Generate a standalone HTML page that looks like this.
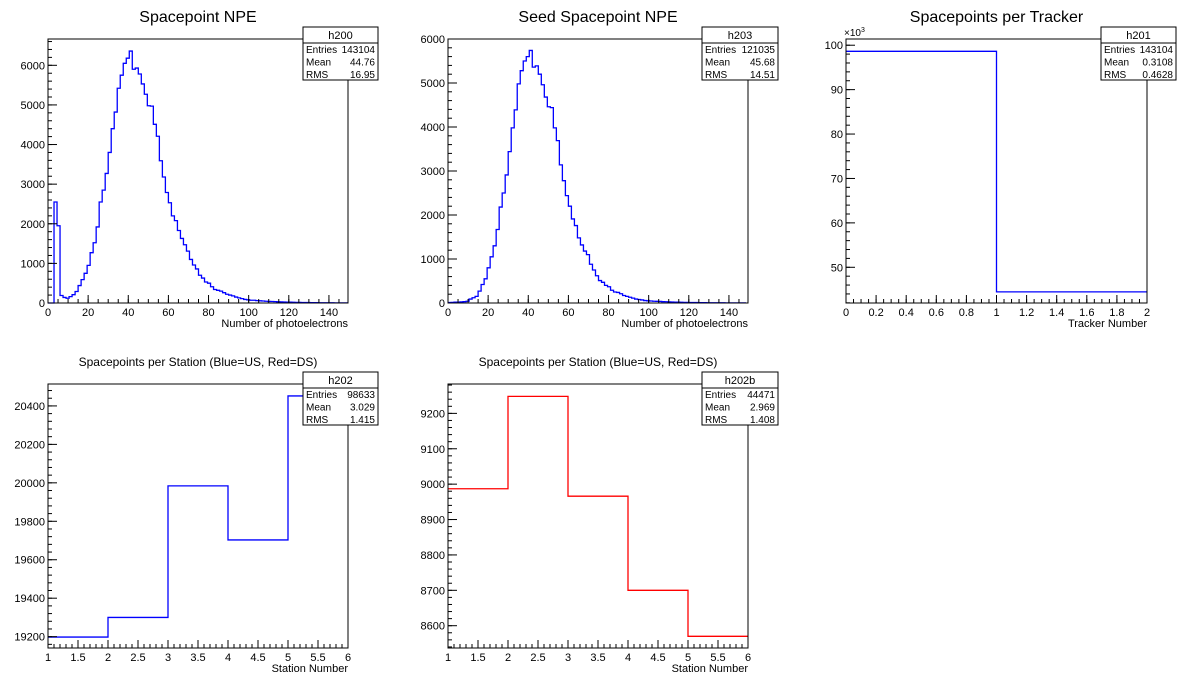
<!DOCTYPE html>
<html><head><meta charset="utf-8">
<style>
html,body{margin:0;padding:0;background:#fff;}
svg{display:block;font-family:"Liberation Sans",Arial,sans-serif;}
</style></head>
<body>
<svg id="c" width="1196" height="690" viewBox="0 0 1196 690" xmlns="http://www.w3.org/2000/svg">
<rect x="0" y="0" width="1196" height="690" fill="#fff"/>
</svg>
<script>
// ---- data ----
const h200Values = [0,0,2550,1950,190,140,120,160,210,290,440,590,750,950,1270,1520,1920,2550,2850,3270,3800,4400,4820,5420,5750,6050,6180,6360,5900,5930,5780,5530,5270,4980,4970,4510,4210,3590,3180,2790,2530,2200,2080,1830,1630,1470,1310,1100,960,860,700,630,530,500,410,340,320,300,260,220,200,180,150,130,110,90,80,70,70,60,55,50,45,40,38,35,30,28,25,22,20,18,16,15,13,12,11,10,9,8,7,6,6,5,5,4,4,3,3,3];
const h203Values = [10,15,20,20,25,30,40,90,120,150,270,420,550,800,1050,1300,1670,2180,2500,2910,3440,3980,4390,4980,5280,5500,5600,5740,5360,5390,5200,4960,4680,4460,4440,3980,3690,3140,2780,2440,2200,1910,1760,1480,1320,1180,1100,880,750,620,510,470,400,370,290,250,240,210,170,150,130,110,90,80,70,55,50,45,40,38,35,30,28,25,22,20,18,16,15,13,12,11,10,9,8,7,6,6,5,5,4,4,3,3,3,2,2,2,2];
const h201Values = [98.633,44.471];
const h202Values = [19198,19300,19984,19703,20452];
const h202bValues = [8987,9248,8966,8700,8570];
const npeXTicks = [0,20,40,60,80,100,120,140];
const h200YTicks = [0,1000,2000,3000,4000,5000,6000];
const h203YTicks = [0,1000,2000,3000,4000,5000,6000];
const trackerXTicks = [0,0.2,0.4,0.6,0.8,1,1.2,1.4,1.6,1.8,2];
const trackerXLabels = ["0","0.2","0.4","0.6","0.8","1","1.2","1.4","1.6","1.8","2"];
const trackerYTicks = [50,60,70,80,90,100];
const stationXTicks = [1,1.5,2,2.5,3,3.5,4,4.5,5,5.5,6];
const stationXLabels = ["1","1.5","2","2.5","3","3.5","4","4.5","5","5.5","6"];
const h202YTicks = [19200,19400,19600,19800,20000,20200,20400];
const h202bYTicks = [8600,8700,8800,8900,9000,9100,9200];

const NS="http://www.w3.org/2000/svg";
const svg=document.getElementById('c');
function mk(tag,attrs,parent){const e=document.createElementNS(NS,tag);for(const k in attrs)e.setAttribute(k,attrs[k]);(parent||svg).appendChild(e);return e;}
function txt(s,x,y,size,anchor,parent){const t=mk('text',{x:x,y:y,'font-size':size,'text-anchor':anchor||'start',fill:'#000'},parent);t.textContent=s;return t;}

function pad(cfg){
  const g=mk('g',{});
  
  
  const L=cfg.L,R=cfg.R,T=cfg.T,B=cfg.B;
  const sx=v=>L+(v-cfg.xmin)/(cfg.xmax-cfg.xmin)*(R-L);
  const sy=v=>B-(Math.max(v,cfg.ymin)-cfg.ymin)/(cfg.ymax-cfg.ymin)*(B-T);
  // title
  const tt=txt(cfg.title,(L+R)/2,cfg.titleY,cfg.titleSize,'middle',g);
  
  
  // histogram
  const vals=cfg.values, n=vals.length, bw=(cfg.hmax-cfg.hmin)/cfg.nbins;
  let d='M'+sx(cfg.hmin)+','+sy(vals[0]);
  for(let i=0;i<n;i++){
    const x0=cfg.hmin+i*bw, x1=x0+bw;
    if(i>0) d+=' V'+sy(vals[i]);
    d+=' H'+Math.min(sx(x1),R);
  }
  const p=mk('path',{d:d,fill:'none',stroke:cfg.color,'stroke-width':1.3},g);
  
  
  // frame
  const fr=mk('rect',{x:L,y:T,width:R-L,height:B-T,fill:'none',stroke:'#000','stroke-width':1},g);
  
  
  // x ticks
  const xa=mk('g',{},g);
  
  
  for(let v=cfg.xmin;v<=cfg.xmax+1e-9;v+=cfg.xminor){
    const x=sx(v); mk('line',{x1:x,x2:x,y1:B,y2:B-4,stroke:'#000','stroke-width':1},xa);
  }
  cfg.xticks.forEach((v,i)=>{
    const x=sx(v); mk('line',{x1:x,x2:x,y1:B,y2:B-8,stroke:'#000','stroke-width':1},xa);
    const lb=txt(cfg.xlabels?cfg.xlabels[i]:String(v),x,B+13,11,'middle',xa);
    
    
  });
  const xt=txt(cfg.xtitle,R,B+24,11,'end',g);
  
  
  // y ticks
  const ya=mk('g',{},g);
  
  
  const start=Math.ceil((cfg.ymin-1e-9)/cfg.yminor)*cfg.yminor;
  for(let v=start;v<=cfg.ymax+1e-9;v+=cfg.yminor){
    const y=sy(v); mk('line',{x1:L,x2:L+4,y1:y,y2:y,stroke:'#000','stroke-width':1},ya);
  }
  cfg.yticks.forEach(v=>{
    const y=sy(v); mk('line',{x1:L,x2:L+9,y1:y,y2:y,stroke:'#000','stroke-width':1},ya);
    const lb=txt(String(v),L-3,y+4,11,'end',ya);
    
    
  });
  if(cfg.yexp){const e=txt('\u00d710',L-2,T-3,10,'start',g);const s=mk('tspan',{dy:-4,'font-size':7},e);s.textContent='3';
    
    }
  // stats box
  const sb=mk('g',{},g);
  
  
  const bx=cfg.sx0,bx1=cfg.sx1,by=cfg.sy0,by1=by+53;
  mk('rect',{x:bx,y:by,width:bx1-bx,height:by1-by,fill:'#fff',stroke:'#000','stroke-width':1},sb);
  mk('line',{x1:bx,x2:bx1,y1:by+16,y2:by+16,stroke:'#000','stroke-width':1},sb);
  txt(cfg.hname,(bx+bx1)/2,by+12,11,'middle',sb);
  const rows=[['Entries',cfg.entries],['Mean',cfg.mean],['RMS',cfg.rms]];
  rows.forEach((r,i)=>{txt(r[0],bx+3,by+26+i*12.5,10,'start',sb);txt(r[1],bx1-3,by+26+i*12.5,10,'end',sb);});
}

pad({name:'pad-spacepoint-npe',title:'Spacepoint NPE',titleY:22,titleSize:16,L:48,R:348,T:39,B:303,xmin:0,xmax:149.5,ymin:0,ymax:6664,
  hmin:0,hmax:150,nbins:100,values:h200Values,color:'#0000ff',xticks:npeXTicks,xminor:5,yticks:h200YTicks,yminor:200,
  xtitle:'Number of photoelectrons',hname:'h200',entries:'143104',mean:'44.76',rms:'16.95',sx0:303,sx1:378,sy0:27});
pad({name:'pad-seed-spacepoint-npe',title:'Seed Spacepoint NPE',titleY:22,titleSize:16,L:448,R:748,T:39,B:303,xmin:0,xmax:149.5,ymin:0,ymax:6000,
  hmin:0,hmax:150,nbins:100,values:h203Values,color:'#0000ff',xticks:npeXTicks,xminor:5,yticks:h203YTicks,yminor:200,
  xtitle:'Number of photoelectrons',hname:'h203',entries:'121035',mean:'45.68',rms:'14.51',sx0:702,sx1:778,sy0:27});
pad({name:'pad-spacepoints-per-tracker',title:'Spacepoints per Tracker',titleY:22,titleSize:16,L:846,R:1147,T:39,B:303,xmin:0,xmax:2,ymin:41.96,ymax:101.4,
  hmin:0,hmax:2,nbins:2,values:h201Values,color:'#0000ff',xticks:trackerXTicks,xlabels:trackerXLabels,xminor:0.05,yticks:trackerYTicks,yminor:2,yexp:true,
  xtitle:'Tracker Number',hname:'h201',entries:'143104',mean:'0.3108',rms:'0.4628',sx0:1101,sx1:1176,sy0:27});
pad({name:'pad-spacepoints-per-station-us',title:'Spacepoints per Station (Blue=US, Red=DS)',titleY:366,titleSize:12,L:48,R:348,T:384,B:648,xmin:1,xmax:6,ymin:19141,ymax:20514,
  hmin:1,hmax:6,nbins:5,values:h202Values,color:'#0000ff',xticks:stationXTicks,xlabels:stationXLabels,xminor:0.1,yticks:h202YTicks,yminor:40,
  xtitle:'Station Number',hname:'h202',entries:'98633',mean:'3.029',rms:'1.415',sx0:303,sx1:378,sy0:372});
pad({name:'pad-spacepoints-per-station-ds',title:'Spacepoints per Station (Blue=US, Red=DS)',titleY:366,titleSize:12,L:448,R:748,T:384,B:648,xmin:1,xmax:6,ymin:8537,ymax:9283,
  hmin:1,hmax:6,nbins:5,values:h202bValues,color:'#ff0000',xticks:stationXTicks,xlabels:stationXLabels,xminor:0.1,yticks:h202bYTicks,yminor:20,
  xtitle:'Station Number',hname:'h202b',entries:'44471',mean:'2.969',rms:'1.408',sx0:702,sx1:778,sy0:372});
</script>
</body></html>
